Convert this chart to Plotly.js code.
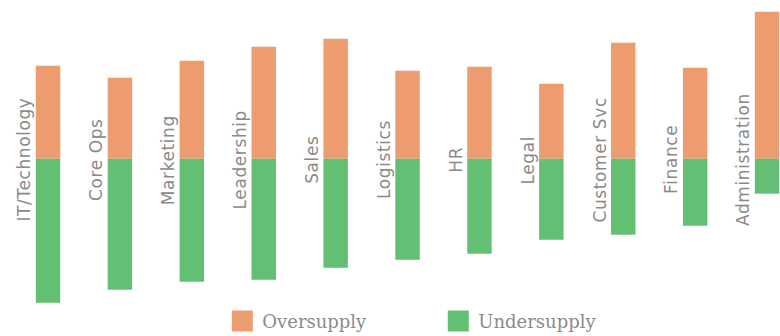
<!DOCTYPE html>
<html>
<head>
<meta charset="utf-8">
<script src="https://cdn.plot.ly/plotly-3.0.1.min.js"></script>
<style>html,body{margin:0;padding:0;background:#fff;}#chart{width:780px;height:336px;}
#chart .annotation-text{letter-spacing:0.6px;}</style>
</head>
<body>
<div id="chart"></div>
<script>
const categories = ["IT/Technology","Core Ops","Marketing","Leadership","Sales","Logistics","HR","Legal","Customer Svc","Finance","Administration"];
const oversupply = [9.3, 8.1, 9.8, 11.2, 12.0, 8.8, 9.2, 7.5, 11.6, 9.1, 14.7];
const undersupply = [-14.4, -13.1, -12.3, -12.1, -10.9, -10.1, -9.5, -8.1, -7.6, -6.7, -3.5];
const seriesNames = ["Oversupply", "Undersupply"];

const idx = categories.map((c, i) => i);
const traces = [
  {type: 'bar', x: idx, y: oversupply, name: seriesNames[0], width: 0.34,
   marker: {color: '#EC9C6F', line: {width: 0}}, hoverinfo: 'skip'},
  {type: 'bar', x: idx, y: undersupply, name: seriesNames[1], width: 0.34,
   marker: {color: '#63BF73', line: {width: 0}}, hoverinfo: 'skip'}
];
const annotations = categories.map((c, i) => ({
  x: i, y: 0, xref: 'x', yref: 'y', text: c, showarrow: false,
  textangle: -90, xshift: -24, yshift: -1, xanchor: 'center', yanchor: 'middle',
  font: {family: 'DejaVu Sans, sans-serif', size: 17, color: '#8a8a8a'}
}));
const layout = {
  width: 780, height: 336,
  margin: {l: 0, r: 0, t: 0, b: 0, autoexpand: false},
  paper_bgcolor: '#ffffff', plot_bgcolor: '#ffffff',
  barmode: 'relative',
  xaxis: {range: [-0.668, 10.18], visible: false, fixedrange: true},
  yaxis: {range: [-17.73, 15.87], visible: false, fixedrange: true},
  showlegend: true,
  legend: {orientation: 'h', x: 0.285, y: 0.044, xanchor: 'left', yanchor: 'middle',
    font: {family: 'DejaVu Serif, serif', size: 18, color: '#8a8a8a'},
    entrywidth: 171, entrywidthmode: 'pixels', bgcolor: 'rgba(0,0,0,0)'},
  annotations: annotations
};
Plotly.newPlot('chart', traces, layout, {staticPlot: true, displayModeBar: false}).then(() => {
  document.querySelectorAll('.legend .legendpoints path').forEach(p => {
    const t = p.getAttribute('transform') || '';
    p.setAttribute('transform', t + ' scale(1.75)');
  });
});
</script>
</body>
</html>
